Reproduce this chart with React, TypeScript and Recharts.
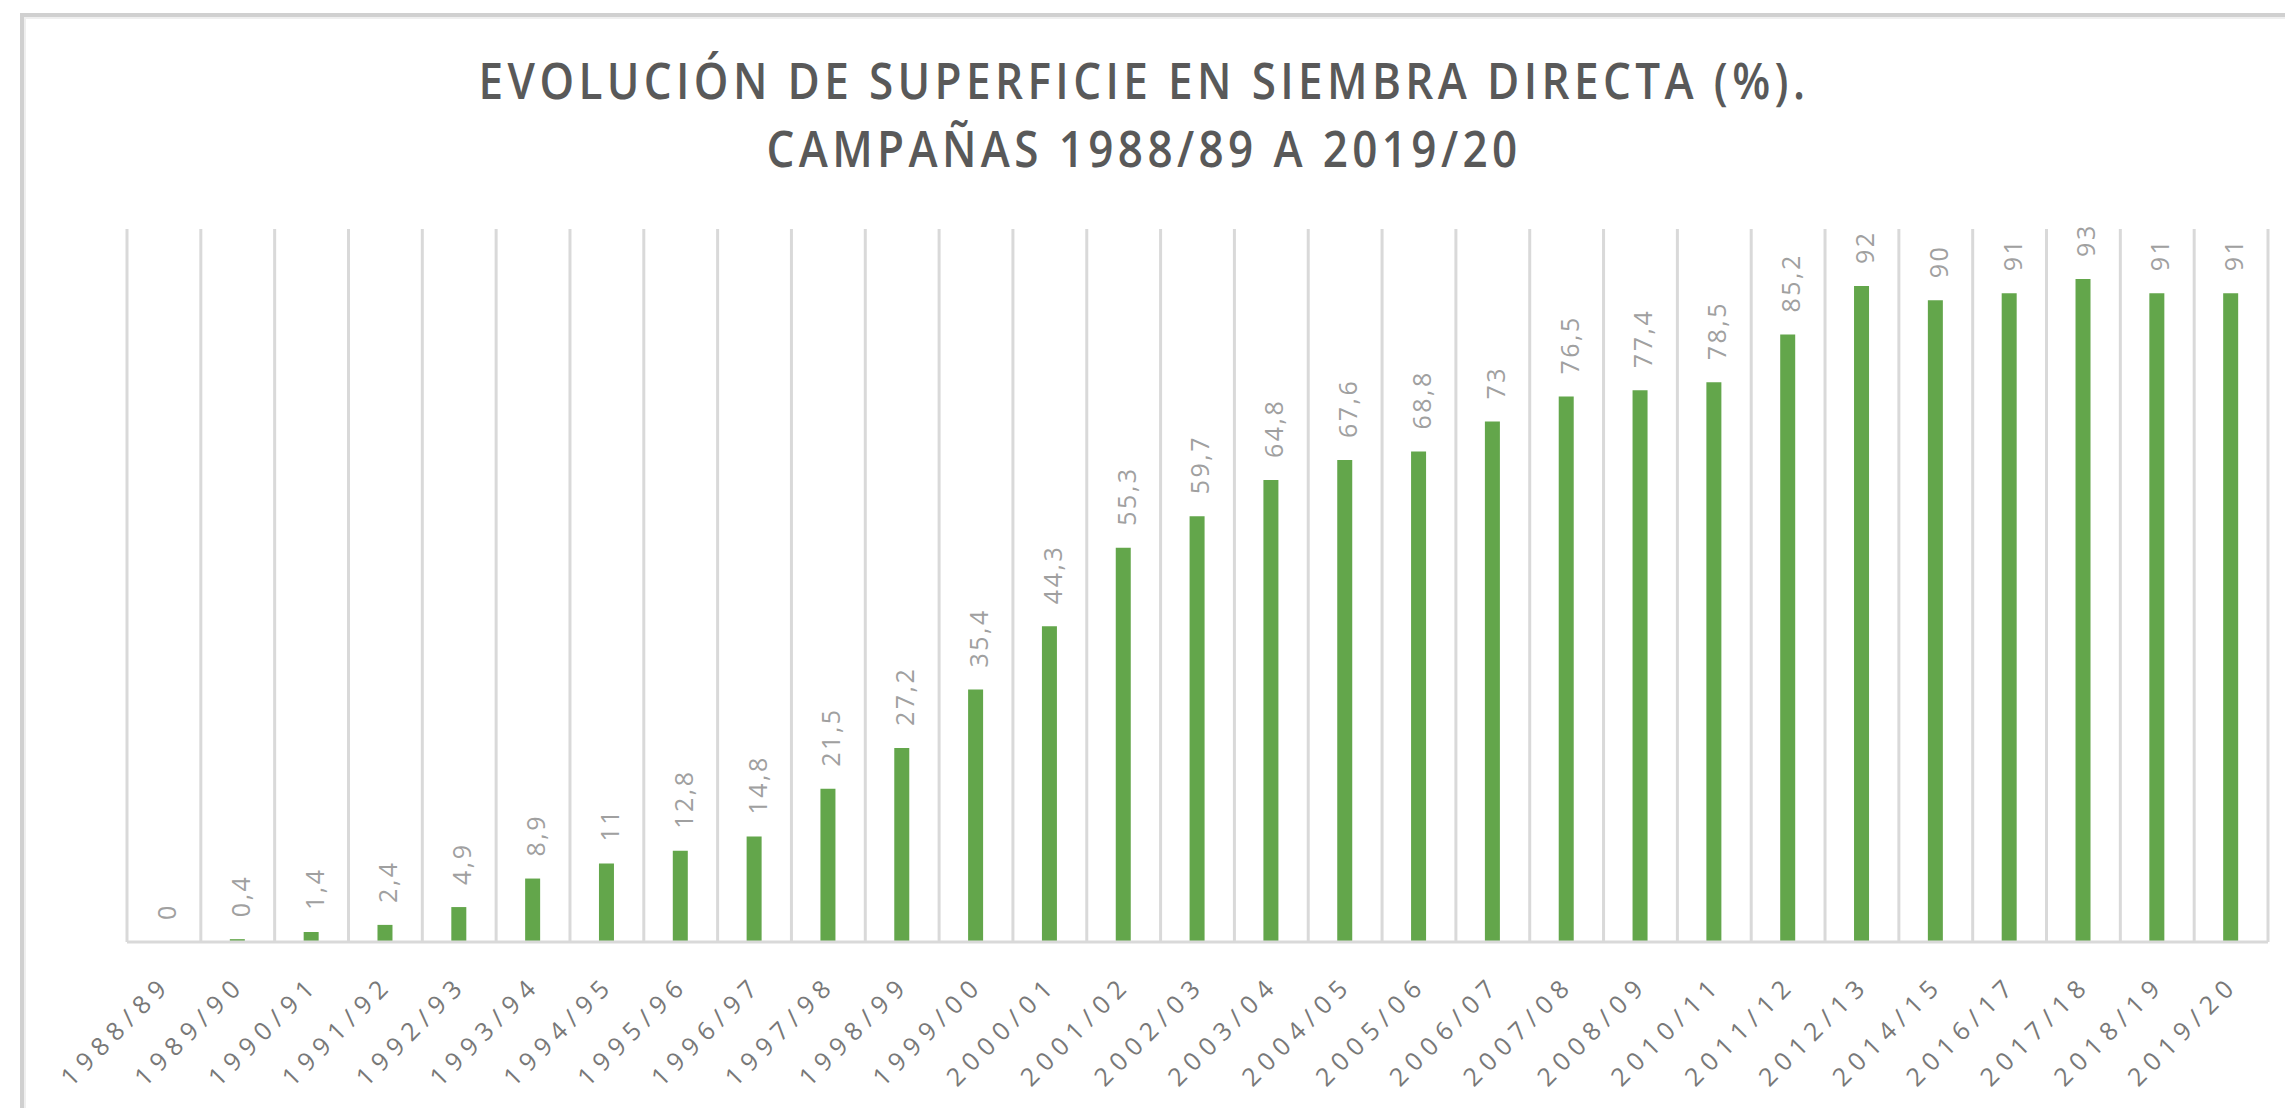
import React from "react";
import { ComposedChart, Bar, Line, XAxis, YAxis, CartesianGrid, LabelList } from "recharts";

const titleLines = [
  "EVOLUCIÓN DE SUPERFICIE EN SIEMBRA DIRECTA (%).",
  "CAMPAÑAS 1988/89 A 2019/20",
];

const campanas = [
  "1988/89", "1989/90", "1990/91", "1991/92", "1992/93", "1993/94", "1994/95",
  "1995/96", "1996/97", "1997/98", "1998/99", "1999/00", "2000/01", "2001/02",
  "2002/03", "2003/04", "2004/05", "2005/06", "2006/07", "2007/08", "2008/09",
  "2010/11", "2011/12", "2012/13", "2014/15", "2016/17", "2017/18", "2018/19",
  "2019/20",
];

const valores = [
  0, 0.4, 1.4, 2.4, 4.9, 8.9, 11, 12.8, 14.8, 21.5, 27.2, 35.4, 44.3, 55.3,
  59.7, 64.8, 67.6, 68.8, 73, 76.5, 77.4, 78.5, 85.2, 92, 90, 91, 93, 91, 91,
];

const yDomain = [0, 100];

const data = campanas.map((c, i) => ({ campana: c, valor: valores[i] }));

const FONT = "'Open Sans', 'DejaVu Sans', sans-serif";

const formatValue = (v: number) => String(v).replace(".", ",");

const XTick = (props: any) => {
  const { x, y, payload } = props;
  return (
    <g transform={`translate(${x + 9},${y + 44})`}>
      <text
        textAnchor="end"
        transform="rotate(-45)"
        fontSize={25}
        letterSpacing={7}
        fill="#787878"
        fontFamily={FONT}
      >
        {payload.value}
      </text>
    </g>
  );
};

const ValueLabel = (props: any) => {
  const { x, y, value } = props;
  const cx = Number(x) + 2;
  const cy = Number(y) - 22;
  return (
    <text
      x={cx}
      y={cy}
      transform={`rotate(-90, ${cx}, ${cy})`}
      textAnchor="start"
      dominantBaseline="central"
      fontSize={25}
      letterSpacing={2.5}
      fill="#a0a0a0"
      fontFamily={FONT}
    >
      {formatValue(Number(value))}
    </text>
  );
};

const gridGen = (props: any) => {
  const { offset } = props;
  const n = campanas.length;
  const out: number[] = [];
  for (let i = 0; i <= n; i++) out.push(offset.left + (i * offset.width) / n);
  return out;
};

const titleTransform = "translate(1144,0) scale(0.88,1) translate(-1144,0)";

export default function App() {
  return (
    <div
      style={{
        position: "fixed",
        left: 0,
        top: 0,
        width: 2285,
        height: 1108,
        overflow: "hidden",
        background: "#ffffff",
      }}
    >
      <div
        style={{
          position: "absolute",
          left: 20,
          top: 13,
          width: 2400,
          height: 1300,
          border: "4px solid #d0d0d0",
          boxShadow: "inset 0 0 0 2px #efefef",
        }}
      />
      <div style={{ position: "absolute", left: 0, top: 0 }}>
        <ComposedChart
          width={2285}
          height={1108}
          data={data}
          margin={{ top: 229, right: 17, bottom: 46, left: 127 }}
        >
          <CartesianGrid
            horizontal={false}
            vertical={true}
            stroke="#d9d9d9"
            strokeWidth={3}
            verticalCoordinatesGenerator={gridGen}
          />
          <XAxis
            dataKey="campana"
            interval={0}
            tickLine={false}
            tickSize={0}
            tickMargin={0}
            height={120}
            axisLine={{ stroke: "#d9d9d9", strokeWidth: 3 }}
            tick={<XTick />}
          />
          <YAxis hide domain={yDomain} />
          <Bar dataKey="valor" fill="#63a64b" barSize={15} isAnimationActive={false} />
          <Line
            dataKey="valor"
            stroke="none"
            dot={false}
            activeDot={false}
            legendType="none"
            isAnimationActive={false}
          >
            <LabelList dataKey="valor" content={<ValueLabel />} />
          </Line>
        </ComposedChart>
      </div>
      <svg
        width={2285}
        height={200}
        style={{ position: "absolute", left: 0, top: 0 }}
      >
        <g transform={titleTransform}>
          <text
            x={1144}
            y={99}
            textAnchor="middle"
            fontSize={50}
            fontWeight={600}
            letterSpacing={5}
            fill="#595959"
            fontFamily={FONT}
          >
            {titleLines[0]}
          </text>
          <text
            x={1144}
            y={167}
            textAnchor="middle"
            fontSize={50}
            fontWeight={600}
            letterSpacing={5}
            fill="#595959"
            fontFamily={FONT}
          >
            {titleLines[1]}
          </text>
        </g>
      </svg>
    </div>
  );
}
